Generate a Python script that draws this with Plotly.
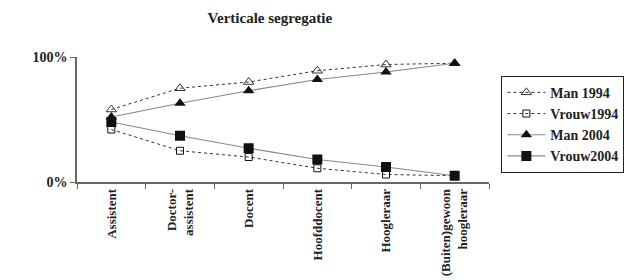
import plotly.graph_objects as go

categories = ["Assistent", "Doctor-<br>assistent", "Docent", "Hoofddocent", "Hoogleraar", "(Buiten)gewoon<br>hoogleraar"]
man_1994 = [58, 75, 80, 89, 94, 95]
vrouw_1994 = [42, 25, 20, 11, 6, 5]
man_2004 = [52, 63, 73, 82, 88, 95]
vrouw_2004 = [48, 37, 27, 18, 12, 5]
y_ticks = [0, 100]
y_tick_labels = ["0%", "100%"]

font_family = "Liberation Serif, Times New Roman, serif"

fig = go.Figure()
fig.add_trace(go.Scatter(x=categories, y=man_1994, name="<b>Man 1994</b>", mode="lines+markers",
                         line=dict(color="#333333", width=1, dash="dot"),
                         marker=dict(symbol="triangle-up-open", size=9, color="#333333", line=dict(width=1))))
fig.add_trace(go.Scatter(x=categories, y=vrouw_1994, name="<b>Vrouw1994</b>", mode="lines+markers",
                         line=dict(color="#333333", width=1, dash="dot"),
                         marker=dict(symbol="square-open", size=7, color="#111111", line=dict(width=1))))
fig.add_trace(go.Scatter(x=categories, y=man_2004, name="<b>Man 2004</b>", mode="lines+markers",
                         line=dict(color="#888888", width=1.2),
                         marker=dict(symbol="triangle-up", size=10, color="#111111")))
fig.add_trace(go.Scatter(x=categories, y=vrouw_2004, name="<b>Vrouw2004</b>", mode="lines+markers",
                         line=dict(color="#888888", width=1.2),
                         marker=dict(symbol="square", size=10, color="#111111")))

fig.update_layout(
    width=625, height=272,
    margin=dict(l=69, r=144, t=49, b=98, autoexpand=False),
    paper_bgcolor="white", plot_bgcolor="white",
    font=dict(family=font_family, size=12, color="#222222"),
    title=dict(text="<b>Verticale segregatie</b>", xref="paper", x=0.468, xanchor="center",
               yref="container", y=0.965, yanchor="middle",
               font=dict(size=15, family=font_family, color="#222222")),
    showlegend=True,
    legend=dict(x=1.03, y=0.85, xanchor="left", yanchor="top", bordercolor="#222222", borderwidth=1,
                font=dict(size=14, family=font_family, color="#222222"), tracegroupgap=0,
                itemwidth=38),
)
fig.update_xaxes(showline=True, linecolor="#666666", linewidth=1.5, ticks="outside", tickson="boundaries",
                 ticklen=5, tickcolor="#666666", tickangle=-90, showgrid=False, automargin=False,
                 tickfont=dict(size=13, family=font_family, color="#222222"),
                 tickvals=categories, ticktext=["<b>%s</b>" % c for c in categories],
                 range=[-0.5, 5.5])
fig.update_yaxes(range=[0, 100], tickvals=y_ticks, ticktext=["<b>%s</b>" % t for t in y_tick_labels],
                 showline=True, linecolor="#666666", linewidth=1.5, ticks="outside", ticklen=5,
                 tickcolor="#666666", showgrid=False, zeroline=False, automargin=False,
                 tickfont=dict(size=14, family=font_family, color="#222222"))

fig.write_html("out.html")
